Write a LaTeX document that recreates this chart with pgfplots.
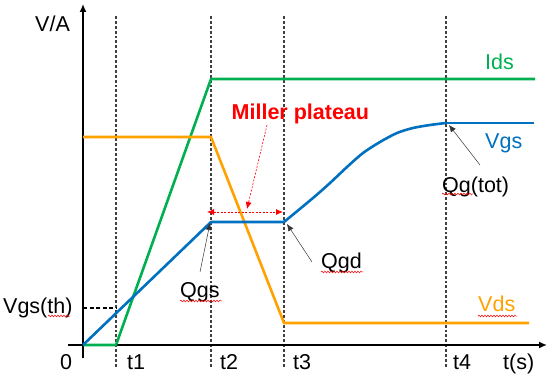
\documentclass[border=0pt]{standalone}
\usepackage{pgfplots}
\pgfplotsset{compat=1.18}
\usepackage{fontspec}
\setmainfont{Liberation Sans}
\usetikzlibrary{arrows.meta,decorations.pathmorphing}
\definecolor{cgreen}{RGB}{0,176,80}
\definecolor{corange}{RGB}{255,162,0}
\definecolor{cblue}{RGB}{0,112,192}
\tikzset{
  lab/.style={font=\fontsize{21.5}{24}\selectfont, inner sep=0pt, anchor=base west},
  squig/.style={red, line width=0.5pt, decorate, decoration={snake, amplitude=0.9pt, segment length=3pt}},
  tdot/.style={black!75, line width=2.8pt, dash pattern=on 2.9pt off 2pt}}
\begin{document}
\begin{tikzpicture}
\begin{axis}[scale only axis, width=554pt, height=383pt,
  xmin=-83, xmax=471, ymin=-38, ymax=345, hide axis, clip=false]
% frame to fix bounding box
\path (axis cs:-83,-38) rectangle (axis cs:471,345);
% time markers
\draw[tdot] (axis cs:33,329) -- (axis cs:33,-22);
\draw[tdot] (axis cs:128,329) -- (axis cs:128,-22);
\draw[tdot] (axis cs:201,329) -- (axis cs:201,-22);
\draw[tdot] (axis cs:363,329) -- (axis cs:363,-22);
% axes
\draw[line width=1.5pt, -{Latex[length=8pt,width=7pt]}] (axis cs:-15,0) -- (axis cs:464,0);
\draw[line width=1.5pt, -{Latex[length=8pt,width=7pt]}] (axis cs:0,-13) -- (axis cs:0,341);
% Vgs(th) dashed
\draw[black, line width=1.2pt, dash pattern=on 4pt off 2.5pt] (axis cs:0,37) -- (axis cs:33,37);
% data
\addplot[cgreen, line width=2.6pt, line join=round] coordinates {(0,0) (33,0) (128,266) (452,266)};
\addplot[corange, line width=2.6pt, line join=round] coordinates {(0,208) (128,208) (201,22) (446,22)};
\addplot[cblue, line width=2.6pt, line join=round] coordinates {(0,0) (128,123) (201,123)};
\addplot[cblue, line width=2.6pt, smooth, line join=round] coordinates {(201,123) (230,147) (247,162) (264,178) (280,192) (297,203) (314,212) (330,217) (347,220) (363,222)};
\addplot[cblue, line width=2.6pt] coordinates {(363,222) (451,222)};
% Miller annotation
\draw[red, line width=0.8pt, dash pattern=on 2pt off 1.5pt, {Latex[length=7pt,width=6pt]}-{Latex[length=7pt,width=6pt]}] (axis cs:124,133) -- (axis cs:200,133);
\draw[red, line width=0.6pt, dash pattern=on 2pt off 1.5pt, -{Latex[length=7pt,width=6pt]}] (axis cs:184,220) -- (axis cs:164,136);
\node[lab, red, font=\fontsize{21.5}{24}\selectfont\bfseries] at (axis cs:148.5,225) {Miller plateau};
% black pointers
\draw[black!80, line width=0.5pt, -{Latex[length=7pt,width=6pt]}] (axis cs:397,180) -- (axis cs:366,220);
\draw[black!80, line width=0.5pt, -{Latex[length=7pt,width=6pt]}] (axis cs:229,83) -- (axis cs:204,121);
\draw[black!80, line width=0.5pt, -{Latex[length=7pt,width=6pt]}] (axis cs:117,73) -- (axis cs:127,122);
% labels
\node[lab] at (axis cs:-48,313) {V/A};
\node[lab] at (axis cs:-23,-24) {0};
\node[lab] at (axis cs:44,-24) {t1};
\node[lab] at (axis cs:137,-24) {t2};
\node[lab] at (axis cs:210,-24) {t3};
\node[lab] at (axis cs:370,-24) {t4};
\node[lab] at (axis cs:420,-24) {t(s)};
\node[lab, cgreen] at (axis cs:402,275) {Ids};
\node[lab, cblue] at (axis cs:402,196) {Vgs};
\node[lab, corange] at (axis cs:395,33) {Vds};
\node[lab] at (axis cs:359,152) {Qg(tot)};
\node[lab] at (axis cs:97,47) {Qgs};
\node[lab] at (axis cs:238,76) {Qgd};
\node[lab] at (axis cs:-80,32) {Vgs(th)};
% spell-check squiggles
\draw[squig] (axis cs:97,44) -- (axis cs:139,44);
\draw[squig] (axis cs:238,73) -- (axis cs:280,73);
\draw[squig] (axis cs:395,29) -- (axis cs:434,29);
\draw[squig] (axis cs:359,151) -- (axis cs:390,151);
\draw[squig] (axis cs:-35,29) -- (axis cs:-13,29);
\end{axis}
\end{tikzpicture}
\end{document}
